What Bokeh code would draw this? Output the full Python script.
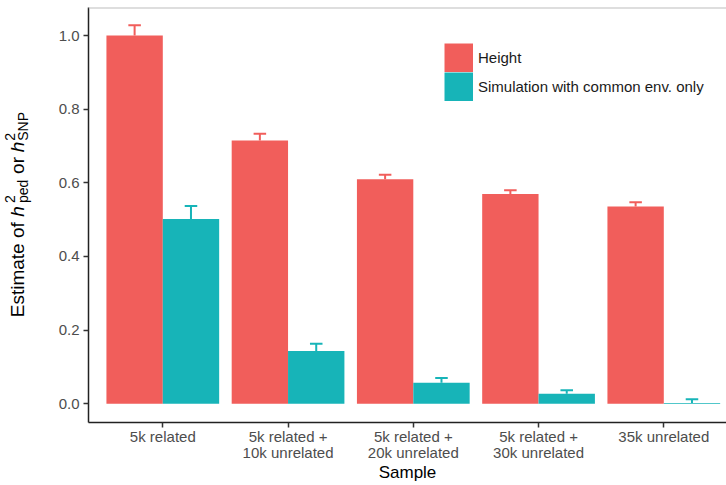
from math import pi
from bokeh.plotting import figure
from bokeh.layouts import row
from bokeh.models import (ColumnDataSource, FixedTicker, Legend, LegendItem,
                          Span, Range1d, NumeralTickFormatter)
from bokeh.core.properties import value
from bokeh.embed import file_html
from bokeh.resources import INLINE

# ---- data ----
samples = ["5k related", "5k related +\n10k unrelated", "5k related +\n20k unrelated",
           "5k related +\n30k unrelated", "35k unrelated"]
series = ["Height", "Simulation with common env. only"]
height_est = [1.000, 0.715, 0.610, 0.570, 0.536]
height_se = [0.028, 0.018, 0.012, 0.010, 0.011]
sim_est = [0.502, 0.143, 0.057, 0.027, 0.002]
sim_se = [0.035, 0.020, 0.013, 0.010, 0.010]
y_ticks = [0.0, 0.2, 0.4, 0.6, 0.8, 1.0]

colors = ["#F15E5B", "#17B4B8"]
FONT = "Liberation Sans"
dodge = 0.225
bar_w = 0.45
cap = 0.05

pos = list(range(1, len(samples) + 1))

LAB_W = 50
W, H = 726, 485

yr = Range1d(-0.0509, 1.0762)
p = figure(width=W - LAB_W, height=H,
           x_range=Range1d(0.4068, 5.5006), y_range=yr,
           output_backend="svg", toolbar_location=None,
           min_border_left=88 - LAB_W, min_border_right=0, min_border_top=7,
           min_border_bottom=63)
p.outline_line_color = None
p.xgrid.visible = False
p.ygrid.visible = False

legend_items = []
for name, est, se, col, off in [(series[0], height_est, height_se, colors[0], -dodge),
                                (series[1], sim_est, sim_se, colors[1], dodge)]:
    xs = [x + off for x in pos]
    tops = [e + s for e, s in zip(est, se)]
    src = ColumnDataSource(dict(x=xs, top=est, etop=tops,
                                x0=[x - cap for x in xs], x1=[x + cap for x in xs]))
    p.vbar(x="x", top="top", bottom=0, width=bar_w, source=src,
           fill_color=col, line_color=None)
    p.segment(x0="x", y0="top", x1="x", y1="etop", source=src, line_color=col, line_width=2)
    p.segment(x0="x0", y0="etop", x1="x1", y1="etop", source=src, line_color=col, line_width=2)
    # legend key: a thick line swatch (fills the key square like ggplot); draws nothing in the plot
    key = p.line(x=[float("nan")], y=[float("nan")], line_color=col, line_width=29)
    legend_items.append(LegendItem(label=name, renderers=[key]))

# top border line
p.add_layout(Span(location=1.0762, dimension="width", line_color="#bdbdbd", line_width=2))

# axes
for ax in (p.xaxis[0], p.yaxis[0]):
    ax.axis_line_color = "#222222"
    ax.axis_line_width = 1.5
    ax.major_tick_line_color = "#333333"
    ax.major_tick_line_width = 1.5
    ax.major_tick_in = 0
    ax.major_tick_out = 5
    ax.minor_tick_line_color = None
    ax.major_label_text_font = FONT
    ax.major_label_text_font_size = "15px"
    ax.major_label_text_color = "#4D4D4D"

p.xaxis.ticker = FixedTicker(ticks=pos)
p.xaxis.major_label_overrides = {k: v for k, v in zip(pos, samples)}
p.xaxis.major_label_standoff = 0
p.xaxis.major_label_text_line_height = 0.95
p.xaxis.axis_label = "Sample"
p.xaxis.axis_label_text_font = FONT
p.xaxis.axis_label_text_font_size = "17px"
p.xaxis.axis_label_text_font_style = "normal"
p.xaxis.axis_label_text_color = "#000000"
p.xaxis.axis_label_standoff = -1

p.yaxis.ticker = FixedTicker(ticks=y_ticks)
p.yaxis.formatter = NumeralTickFormatter(format="0.0")
p.yaxis.major_label_standoff = 4

legend = Legend(items=legend_items, location=(356, 321), orientation="vertical",
                glyph_width=29, glyph_height=29, label_height=29, spacing=0,
                padding=0, margin=0, label_standoff=5,
                border_line_color=None, background_fill_alpha=0,
                label_text_font=FONT, label_text_font_size="15px",
                label_text_color="#1a1a1a")
p.add_layout(legend)

# ---- y-axis title panel (shares the value range so it lines up with the frame) ----
pl = figure(width=LAB_W, height=H, x_range=Range1d(0, LAB_W), y_range=yr,
            output_backend="svg", toolbar_location=None,
            x_axis_location=None, y_axis_location=None,
            min_border_left=0, min_border_right=0, min_border_top=7, min_border_bottom=63)
pl.outline_line_color = None
pl.xgrid.visible = False
pl.ygrid.visible = False

PXU = 367.3          # pixels per unit of the value axis (for spacing the pieces)
base_x = 17          # baseline of rotated title
v0 = 0.235           # where "Estimate" starts
pieces = [
    ("Estimate of", 0.0, 0, "19px", "normal"),
    ("h", 100.3, 0, "19px", "italic"),
    ("2", 114.0, -8, "14px", "normal"),
    ("ped", 114.0, 5, "14px", "normal"),
    ("or", 143.0, 0, "19px", "normal"),
    ("h", 164.5, 0, "19px", "italic"),
    ("2", 176.0, -8, "14px", "normal"),
    ("SNP", 176.0, 5, "14px", "normal"),
]
for txt, along, dx, size, style in pieces:
    pl.text(x=[base_x + dx], y=[v0 + along / PXU], text=[txt], angle=pi / 2,
            text_font=value(FONT), text_font_size=value(size),
            text_font_style=style, text_color="#000000",
            text_baseline="alphabetic", text_align="left")

layout = row(pl, p, spacing=0)
open("out.html", "w").write(file_html(layout, INLINE))
